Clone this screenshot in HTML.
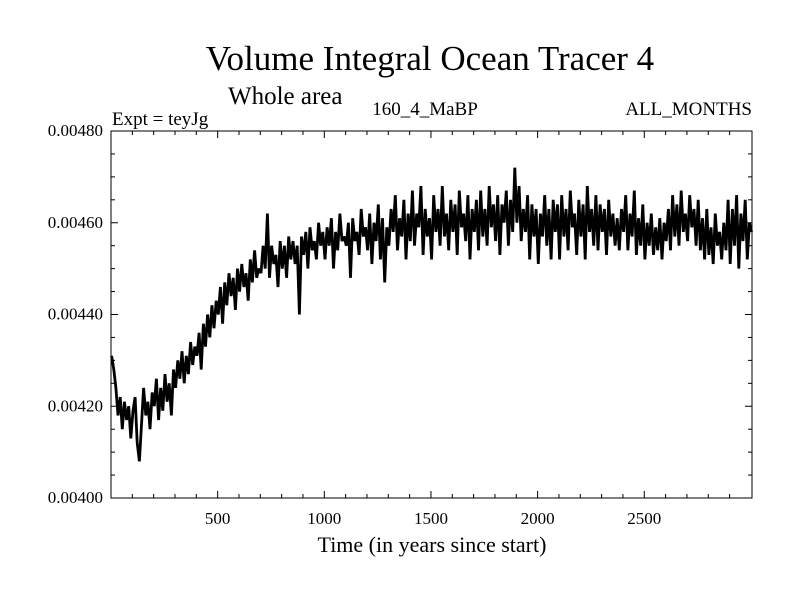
<!DOCTYPE html>
<html><head><meta charset="utf-8"><style>
body{margin:0;background:#fff}
svg{display:block;font-family:"Liberation Serif",serif}
</style></head><body>
<svg id="chart" width="800" height="600" viewBox="0 0 800 600">
<rect width="800" height="600" fill="#fff"/>
<text x="430" y="70" font-size="35" text-anchor="middle">Volume Integral Ocean Tracer 4</text>
<text x="228" y="104" font-size="25">Whole area</text>
<text x="112" y="125" font-size="19">Expt = teyJg</text>
<text x="425" y="115" font-size="19" text-anchor="middle">160_4_MaBP</text>
<text x="752" y="115" font-size="19" text-anchor="end">ALL_MONTHS</text>
<text x="432" y="552" font-size="22" text-anchor="middle">Time (in years since start)</text>
<g id="ticks"></g>
<g id="series"></g>
<rect x="111" y="131" width="641" height="367" fill="none" stroke="#000" stroke-width="1"/>
</svg>
<script>
const xTickValues=[500,1000,1500,2000,2500];
const xTickLabels=["500","1000","1500","2000","2500"];
const yTickValues=[0.0040,0.0042,0.0044,0.0046,0.0048];
const yTickLabels=["0.00400","0.00420","0.00440","0.00460","0.00480"];
const yearStep=10;
const tracerE5=[
431,428,424,418,422,415,421,417,420,413,
419,422,412,408,416,424,418,421,415,423,
420,426,417,424,419,427,421,425,418,428,
424,430,426,432,425,431,427,434,429,433,
431,436,428,438,433,440,435,442,437,443,
440,446,438,447,442,449,444,448,441,450,
445,451,446,449,443,452,447,454,448,450,
449,455,450,462,448,455,451,453,446,456,
450,455,448,457,452,456,451,455,440,457,
453,458,450,459,454,456,452,460,455,458,
452,459,455,461,450,458,454,462,456,457,
455,460,448,461,456,458,453,463,457,459,
454,462,451,460,456,464,452,461,447,459,
455,463,458,466,454,461,457,465,452,462,
456,467,455,462,459,468,453,463,457,461,
452,466,458,463,455,468,457,462,454,465,
458,464,453,467,459,462,456,466,452,463,
458,465,454,467,457,463,455,468,459,464,
456,466,453,464,460,467,455,465,458,472,
460,468,456,463,458,466,452,464,457,463,
451,462,457,466,455,463,452,465,458,464,
452,466,457,463,454,467,459,462,453,465,
457,464,452,468,458,463,455,466,454,464,
458,463,453,465,457,462,455,461,454,463,
458,466,454,462,457,467,453,461,455,464,
452,460,455,462,453,459,454,461,452,460,
456,463,454,466,457,464,455,467,458,462,
456,466,459,463,455,465,454,461,452,463,
453,459,451,462,455,458,452,460,454,465,
451,463,455,466,450,462,456,465,452,460,
458];
const NS="http://www.w3.org/2000/svg";
const X0=111,X1=752,Y0=498,Y1=131,XMIN=0,XMAX=3005,YMIN=0.0040,YMAX=0.0048;
function xs(v){return X0+(v-XMIN)/(XMAX-XMIN)*(X1-X0);}
function ys(v){return Y0-(v-YMIN)/(YMAX-YMIN)*(Y0-Y1);}
const tg=document.getElementById('ticks');
function line(x1,y1,x2,y2){const l=document.createElementNS(NS,'line');l.setAttribute('x1',x1);l.setAttribute('y1',y1);l.setAttribute('x2',x2);l.setAttribute('y2',y2);l.setAttribute('stroke','#000');tg.appendChild(l);return l;}
for(let v=100;v<3000;v+=100){const x=xs(v);const major=v%500===0;const len=major?7:4;
const a=line(x,Y0,x,Y0-len);
const b=line(x,Y1,x,Y1+len);}
for(let i=1;i<16;i++){const v=YMIN+i*0.00005;const y=ys(v);const major=i%4===0;const len=major?7:4;
const a=line(X0,y,X0+len,y);
const b=line(X1,y,X1-len,y);}
xTickValues.forEach((v,i)=>{const t=document.createElementNS(NS,'text');t.setAttribute('x',xs(v));t.setAttribute('y',524);t.setAttribute('font-size','17');t.setAttribute('text-anchor','middle');t.textContent=xTickLabels[i];


tg.appendChild(t);});
yTickValues.forEach((v,i)=>{const t=document.createElementNS(NS,'text');t.setAttribute('x',103);t.setAttribute('y',ys(v)+5);t.setAttribute('font-size','17');t.setAttribute('text-anchor','end');t.textContent=yTickLabels[i];


tg.appendChild(t);});
const pts=tracerE5.map((v,i)=>xs(i*yearStep+3).toFixed(1)+','+ys(v*1e-5).toFixed(1)).join(' ');
const p=document.createElementNS(NS,'polyline');
p.setAttribute('points',pts);p.setAttribute('fill','none');p.setAttribute('stroke','#000');p.setAttribute('stroke-width','2.8');p.setAttribute('stroke-linejoin','miter');p.setAttribute('stroke-miterlimit','2');


document.getElementById('series').appendChild(p);
</script>
</body></html>
